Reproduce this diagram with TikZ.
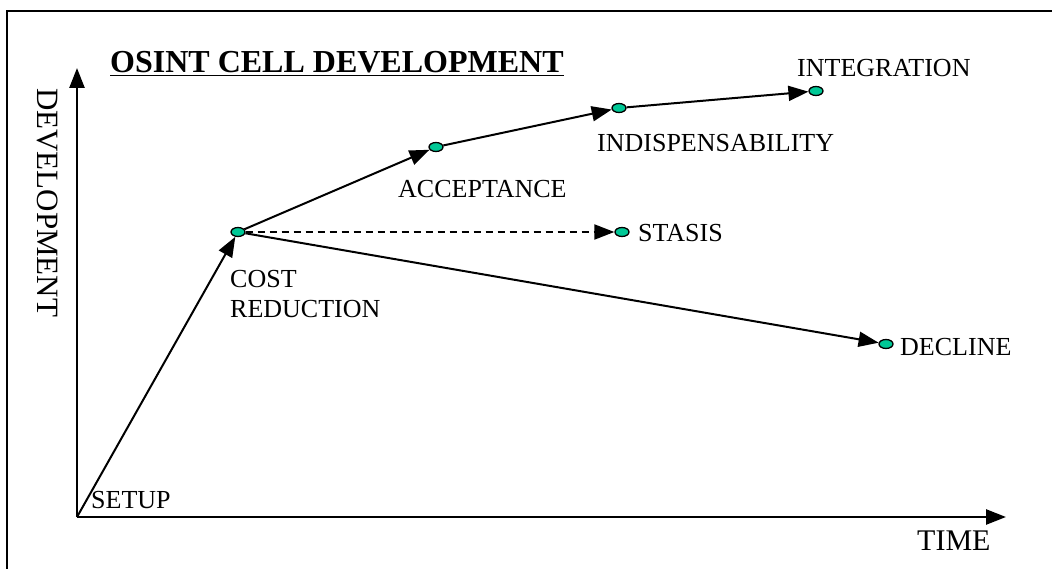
\documentclass[tikz,border=0pt]{standalone}
\usepackage{fontspec}
\setmainfont{Liberation Serif}
\usetikzlibrary{arrows.meta,shapes.geometric}
\definecolor{stagefill}{RGB}{0,200,150}
\tikzset{
  stage/.style={ellipse,draw=black,line width=1.3pt,fill=stagefill,minimum width=14pt,minimum height=9pt,inner sep=0pt},
  link/.style={line width=2pt,-{Triangle[length=20pt,width=15pt]}},
  axis/.style={line width=2.5pt,-{Triangle[length=20pt,width=15pt]}},
  lbl/.style={anchor=base west,inner sep=0pt,font=\fontsize{26pt}{31pt}\selectfont,align=left},
}
\begin{document}
\begin{tikzpicture}[x=1pt,y=-1pt]
\useasboundingbox (0,0) rectangle (1052,569);
% outer frame (top and left edges)
\draw[line width=2pt] (7,569) -- (7,11) -- (1052,11);
% axes
\coordinate (o) at (77,517);
\coordinate (ytip) at (77,68);
\coordinate (xtip) at (1006,517);
\draw[axis] (o) -- (ytip);
\draw[axis] (o) -- (xtip);
% title
\node[anchor=base west,inner sep=0pt,font=\fontsize{32pt}{38pt}\selectfont\bfseries] (title) at (110,73) {\underline{OSINT CELL DEVELOPMENT}};
% axis labels
\node[anchor=base west,inner sep=0pt,rotate=-90,font=\fontsize{31pt}{36pt}\selectfont] (ylab) at (37,88) {DEVELOPMENT};
\node[anchor=base west,inner sep=0pt,font=\fontsize{30pt}{36pt}\selectfont] (xlab) at (917,550) {TIME};
% stages
\node[stage] (cost) at (238,232) {};
\node[stage] (acc) at (436,147) {};
\node[stage] (ind) at (619,108) {};
\node[stage] (int) at (816,91) {};
\node[stage] (sta) at (622,232) {};
\node[stage] (dec) at (886,344) {};
% connectors
\draw[link] (o) -- (cost);
\draw[link] (cost) -- (acc);
\draw[link] (acc) -- (ind);
\draw[link] (ind) -- (int);
\draw[link,dashed,dash pattern=on 7pt off 5pt] (cost) -- (sta);
\draw[link] (cost) -- (dec);
% stage labels
\node[lbl] (lsetup) at (91,508) {SETUP};
\node[lbl] (lcost) at (230,318) {COST\\REDUCTION};
\node[lbl] (lacc) at (398,198) {ACCEPTANCE};
\node[lbl] (lind) at (597,152) {INDISPENSABILITY};
\node[lbl] (lint) at (797,77) {INTEGRATION};
\node[lbl] (lsta) at (638,242) {STASIS};
\node[lbl] (ldec) at (900,355) {DECLINE};
\end{tikzpicture}
\end{document}
